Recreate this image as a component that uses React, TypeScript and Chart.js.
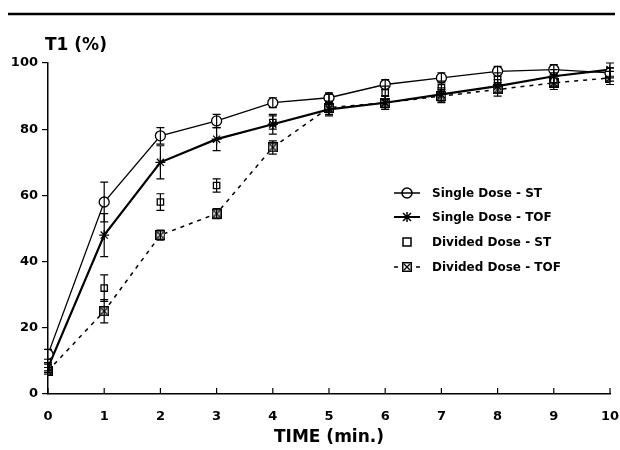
import React, { useEffect, useRef } from "react";
import { Chart, registerables } from "chart.js";

Chart.register(...registerables);

const timeLabels = [0, 1, 2, 3, 4, 5, 6, 7, 8, 9, 10];
const yTicks = [0, 20, 40, 60, 80, 100];

const singleST = [12, 58, 78, 82.5, 88, 89.5, 93.5, 95.5, 97.5, 98, 97];
const singleSTErr = [1.5, 6, 2.5, 2, 1.5, 1.5, 1.5, 1.5, 1.5, 1.5, 1.5];
const singleTOF = [8, 48, 70, 77, 81.5, 86, 88, 90.5, 93, 96, 98];
const singleTOFErr = [1.5, 6.5, 5, 3.5, 3, 2, 2, 2, 2, 2, 2];
const dividedST = [8, 32, 58, 63, 82, 89, 91, 92.5, 95, 95, 96.5];
const dividedSTErr = [1, 4, 2.5, 2, 2, 1.5, 2, 2, 2, 2, 2];
const dividedTOF = [7, 25, 48, 54.5, 74.5, 86.5, 88, 90, 92, 94, 95.5];
const dividedTOFErr = [1, 3.5, 1.5, 1.5, 2, 2, 2, 2, 2, 2, 2];

const seriesNames = [
  "Single Dose - ST",
  "Single Dose - TOF",
  "Divided Dose - ST",
  "Divided Dose - TOF",
];

const FONT = "'DejaVu Sans', sans-serif";

function makeBoxX(size: number): HTMLCanvasElement {
  const c = document.createElement("canvas");
  c.width = size;
  c.height = size;
  const g = c.getContext("2d")!;
  g.fillStyle = "#fff";
  g.fillRect(0, 0, size, size);
  g.strokeStyle = "#000";
  g.lineWidth = 1.5;
  g.strokeRect(0.75, 0.75, size - 1.5, size - 1.5);
  g.lineWidth = 1.3;
  g.beginPath();
  g.moveTo(2, 2);
  g.lineTo(size - 2, size - 2);
  g.moveTo(size - 2, 2);
  g.lineTo(2, size - 2);
  g.stroke();
  return c;
}

function drawSymbol(ctx: CanvasRenderingContext2D, kind: number, x: number, y: number, boxX: HTMLCanvasElement) {
  ctx.save();
  ctx.strokeStyle = "#000";
  ctx.fillStyle = "#fff";
  ctx.lineWidth = 1.5;
  if (kind === 0) {
    ctx.beginPath();
    ctx.moveTo(x - 13, y);
    ctx.lineTo(x + 13, y);
    ctx.stroke();
    ctx.beginPath();
    ctx.arc(x, y, 5, 0, Math.PI * 2);
    ctx.stroke();
  } else if (kind === 1) {
    ctx.lineWidth = 2;
    ctx.beginPath();
    ctx.moveTo(x - 13, y);
    ctx.lineTo(x + 13, y);
    ctx.stroke();
    ctx.lineWidth = 1.5;
    ctx.beginPath();
    ctx.moveTo(x, y - 5);
    ctx.lineTo(x, y + 5);
    ctx.moveTo(x - 4, y - 4);
    ctx.lineTo(x + 4, y + 4);
    ctx.moveTo(x + 4, y - 4);
    ctx.lineTo(x - 4, y + 4);
    ctx.stroke();
  } else if (kind === 2) {
    ctx.strokeRect(x - 4, y - 4, 8, 8);
  } else {
    ctx.lineWidth = 1.5;
    ctx.beginPath();
    ctx.moveTo(x - 13, y);
    ctx.lineTo(x - 9, y);
    ctx.moveTo(x + 9, y);
    ctx.lineTo(x + 13, y);
    ctx.stroke();
    ctx.drawImage(boxX, x - 5, y - 5);
  }
  ctx.restore();
}

export default function App() {
  const ref = useRef<HTMLCanvasElement | null>(null);

  useEffect(() => {
    document.body.style.margin = "0";
    const canvas = ref.current;
    if (!canvas) return;
    const boxX = makeBoxX(10);
    const errs = [singleSTErr, singleTOFErr, dividedSTErr, dividedTOFErr];

    const decor = {
      id: "decor",
      afterDatasetsDraw(chart: any) {
        const ctx = chart.ctx as CanvasRenderingContext2D;
        const xs = chart.scales.x;
        const ys = chart.scales.y;
        ctx.save();
        ctx.strokeStyle = "#000";
        ctx.lineWidth = 1.2;
        chart.data.datasets.forEach((ds: any, di: number) => {
          const e = errs[di];
          ds.data.forEach((v: number, i: number) => {
            const px = xs.getPixelForValue(timeLabels[i]);
            const top = ys.getPixelForValue(v + e[i]);
            const bot = ys.getPixelForValue(v - e[i]);
            ctx.beginPath();
            ctx.moveTo(px, top);
            ctx.lineTo(px, bot);
            ctx.moveTo(px - 4, top);
            ctx.lineTo(px + 4, top);
            ctx.moveTo(px - 4, bot);
            ctx.lineTo(px + 4, bot);
            ctx.stroke();
          });
        });
        ctx.restore();
      },
      afterDraw(chart: any) {
        const ctx = chart.ctx as CanvasRenderingContext2D;
        const xs = chart.scales.x;
        const area = chart.chartArea;
        ctx.save();
        ctx.strokeStyle = "#000";
        ctx.lineWidth = 2.5;
        ctx.beginPath();
        ctx.moveTo(8, 14);
        ctx.lineTo(615, 14);
        ctx.stroke();
        ctx.lineWidth = 1.2;
        timeLabels.forEach((t) => {
          const px = xs.getPixelForValue(t);
          ctx.beginPath();
          ctx.moveTo(px, area.bottom);
          ctx.lineTo(px, area.bottom - 6);
          ctx.stroke();
        });
        ctx.fillStyle = "#000";
        ctx.font = `bold 17px ${FONT}`;
        ctx.textAlign = "left";
        ctx.textBaseline = "middle";
        ctx.fillText("T1 (%)", 45, 46);
        ctx.font = `bold 12px ${FONT}`;
        const rows = [193, 217, 242, 267];
        seriesNames.forEach((name, i) => {
          drawSymbol(ctx, i, 407, rows[i], boxX);
          ctx.fillStyle = "#000";
          ctx.fillText(name, 432, rows[i] + 1);
        });
        ctx.restore();
      },
    };

    const chart = new Chart(canvas, {
      type: "line",
      data: {
        labels: timeLabels,
        datasets: [
          {
            label: seriesNames[0],
            data: singleST,
            borderColor: "#000",
            borderWidth: 1.3,
            pointStyle: "circle",
            pointRadius: 5,
            pointBorderWidth: 1.3,
            pointBackgroundColor: "#fff",
            pointBorderColor: "#000",
          },
          {
            label: seriesNames[1],
            data: singleTOF,
            borderColor: "#000",
            borderWidth: 2.2,
            pointStyle: "star",
            pointRadius: 5,
            pointBorderWidth: 1.3,
            pointBorderColor: "#000",
          },
          {
            label: seriesNames[2],
            data: dividedST,
            showLine: false,
            borderColor: "#000",
            pointStyle: "rect",
            pointRadius: 4.5,
            pointBorderWidth: 1.3,
            pointBackgroundColor: "#fff",
            pointBorderColor: "#000",
          },
          {
            label: seriesNames[3],
            data: dividedTOF,
            borderColor: "#000",
            borderWidth: 1.5,
            borderDash: [4, 5],
            pointStyle: boxX as any,
            pointRadius: 5,
          },
        ],
      },
      options: {
        animation: false,
        responsive: false,
        maintainAspectRatio: false,
        events: [],
        layout: { padding: { left: 0, right: 10, top: 63, bottom: 0 } },
        plugins: {
          legend: { display: false },
          tooltip: { enabled: false },
        },
        scales: {
          x: {
            type: "linear",
            min: 0,
            max: 10,
            afterFit(scale: any) {
              scale.height = 56;
              scale.paddingLeft = 0;
              scale.paddingRight = 0;
            },
            ticks: {
              stepSize: 1,
              padding: 15,
              color: "#000",
              font: { family: FONT, size: 13, weight: "bold" },
            },
            grid: { display: true, drawOnChartArea: false, drawTicks: false },
            border: { display: true, color: "#000", width: 1.5 },
            title: {
              display: true,
              text: "TIME (min.)",
              color: "#000",
              font: { family: FONT, size: 17, weight: "bold" },
              padding: { top: 0, bottom: 2 },
            },
          },
          y: {
            type: "linear",
            min: 0,
            max: 100,
            afterFit(scale: any) {
              scale.width = 48;
              scale.paddingTop = 0;
              scale.paddingBottom = 0;
            },
            afterBuildTicks(scale: any) {
              scale.ticks = yTicks.map((v) => ({ value: v }));
            },
            ticks: {
              padding: 4,
              color: "#000",
              font: { family: FONT, size: 13, weight: "bold" },
            },
            grid: {
              display: true,
              drawOnChartArea: false,
              drawTicks: true,
              tickLength: 6,
              color: "#000",
              lineWidth: 1.2,
            },
            border: { display: true, color: "#000", width: 1.5 },
          },
        },
      } as any,
      plugins: [decor],
    });

    return () => chart.destroy();
  }, []);

  return (
    <div style={{ width: 620, height: 450, background: "#fff" }}>
      <canvas ref={ref} width={620} height={450} style={{ display: "block" }} />
    </div>
  );
}
